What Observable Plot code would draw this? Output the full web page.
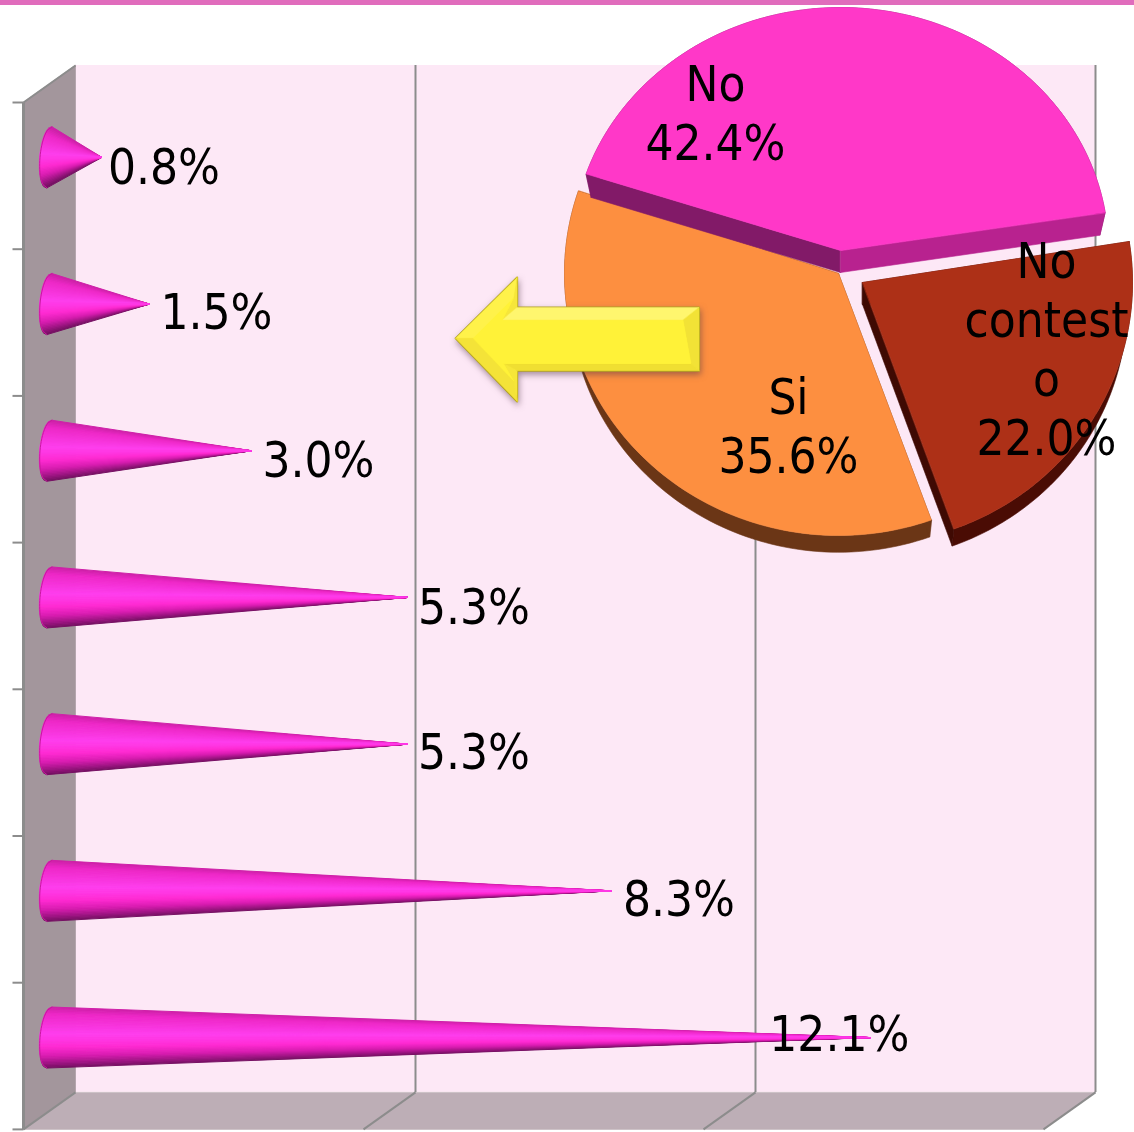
<!DOCTYPE html>
<html>
<head>
<meta charset="utf-8">
<script src="https://cdn.jsdelivr.net/npm/d3@7"></script>
<script src="https://cdn.jsdelivr.net/npm/@observablehq/plot@0.6"></script>
<style>
  html, body { margin: 0; padding: 0; background: #fff; }
  svg { display: block; }
</style>
</head>
<body>
<div id="chart"></div>
<script>
// Cone series, top row to bottom row (percent)
const shares = [0.8, 1.5, 3.0, 5.3, 5.3, 8.3, 12.1];
const axisTicks = [0, 5, 10, 15];

// Pie series, clockwise from the first slice
const pieNames = ["No\ncontest\no", "Si", "No"];
const pieValues = [22.0, 35.6, 42.4];
const pieFaces = ["#ad3017", "#fd8f40", "#ff38c8"];
const pieRims = ["#4a0c04", "#6b3616", "#821a68"];
const pieCuts = ["#3f0a03", "#6b3616", "#b8228f"];

// Chart frame: the value and row scales that every mark shares
const W = 1134, H = 1132;
const pxPerUnit = 68, pxPerRow = 146.7, originX = 75, originY = 65;
const depthX = -52 / pxPerUnit, depthY = 37 / pxPerRow;
const xMin = -originX / pxPerUnit, xMax = (W - originX) / pxPerUnit;
const yMin = -originY / pxPerRow, yMax = (H - originY) / pxPerRow;
const rows = shares.length;

const labelFont = {
  fontFamily: "'DejaVu Sans Condensed', 'DejaVu Sans'",
  fontSize: 49,
  fill: "#000",
  lineHeight: 1.2
};

// Closed polygons (walls, pie parts, arrow facets) share this table shape
const poly = (id, shade, pts) => pts.map(([x, y]) => ({id, shade, x, y}));
const closed = (rowsOut, extra = {}) => Plot.line(rowsOut, {
  x: "x", y: "y", z: "id", fill: "shade", stroke: "shade",
  strokeWidth: 0.6, curve: "linear-closed", ...extra
});

// Side wall and floor of the box
const walls = [
  ...poly("side", "#a3969c", [[0, 0], [0, rows], [depthX, rows + depthY], [depthX, depthY]]),
  ...poly("floor", "#bdaeb6", [[0, rows], [axisTicks[3], rows], [axisTicks[3] + depthX, rows + depthY], [depthX, rows + depthY]])
];

// Each cone is a fan of thin strips from the round base to the tip;
// strips are drawn edge first so the bright centre stays on top at the tip
const coneShade = d3.scaleLinear()
  .domain([-1, -0.75, -0.1, 0.3, 0.6, 0.85, 1])
  .range(["#cc1fa6", "#ee28c8", "#ff3eee", "#ff2ad2", "#d81cb0", "#9a1480", "#70105e"]);
const stripCount = 40, baseHalf = 30.5 / pxPerRow;
const baseX = f => (2 - 9.5 * Math.sqrt(Math.max(0, 1 - f * f)) - 2.5 * f) / pxPerUnit;
const stripOrder = d3.range(stripCount).sort((a, b) =>
  Math.abs(b + 0.5 - stripCount / 2) - Math.abs(a + 0.5 - stripCount / 2));
const coneStrips = shares.flatMap((v, i) =>
  stripOrder.flatMap(k => {
    const f0 = -1 + 2 * k / stripCount, f1 = -1 + 2 * (k + 1) / stripCount;
    const yc = i + 0.5;
    return poly(`${i}-${k}`, coneShade((f0 + f1) / 2), [
      [baseX(f0), yc + f0 * baseHalf],
      [v, yc],
      [baseX(f1), yc + f1 * baseHalf]
    ]);
  })
);
const coneRims = shares.flatMap((v, i) =>
  d3.range(-1, 1.001, 0.1).map(f => ({id: i, x: baseX(f), y: i + 0.5 + f * baseHalf}))
);

// Offsets of the value labels from the cone tips
const labelDx = [-22, -17, -17, -18, -18, -17, -129];
const labelDy = [26, 25, 26, 26, 25, 25, 13];

// Pie: slices keep their own centre because they are pulled apart
const pieStart = 81;
const pieCentre = [[862, 282], [838, 273], [840, 250]]
  .map(([a, b]) => [(a - originX) / pxPerUnit, (b - originY) / pxPerRow]);
const pieRadius = [[270, 262], [274, 262], [268, 243]]
  .map(([a, b]) => [a / pxPerUnit, b / pxPerRow]);
const pieDepth = 22 / pxPerRow;
const pieTotal = d3.sum(pieValues);
const pieAngles = [];
pieValues.reduce((acc, v) => { pieAngles.push([acc, acc + v / pieTotal * 360]); return acc + v / pieTotal * 360; }, pieStart);

function pieArc(i, shrink = 1, drop = 0) {
  const [a0, a1] = pieAngles[i], [cx, cy] = pieCentre[i], [rx, ry] = pieRadius[i];
  return d3.range(a0, a1 + 0.001, (a1 - a0) / 90).map(a => {
    const t = a * Math.PI / 180;
    return [cx + rx * shrink * Math.sin(t), cy - ry * shrink * Math.cos(t) + drop];
  });
}
const pieParts = pieValues.flatMap((v, i) => {
  const [cx, cy] = pieCentre[i];
  const top = pieArc(i), low = pieArc(i, 0.98, pieDepth);
  const out = [];
  out.push(...poly(`rim${i}`, pieRims[i], [...top, ...low.slice().reverse()]));
  out.push(...poly(`start${i}`, pieRims[i], [[cx, cy], top[0], low[0], [cx, cy + pieDepth]]));
  out.push(...poly(`end${i}`, pieCuts[i], [[cx, cy], top[top.length - 1], low[low.length - 1], [cx, cy + pieDepth]]));
  out.push(...poly(`face${i}`, pieFaces[i], [[cx, cy], ...top]));
  return out;
});
const pieLabelAt = [[1046, 347], [788, 424], [715, 111]]
  .map(([a, b]) => [(a - originX) / pxPerUnit, (b - originY) / pxPerRow]);
const pieLabels = pieValues.map((v, i) => ({
  text: `${pieNames[i]}\n${v.toFixed(1)}%`, x: pieLabelAt[i][0], y: pieLabelAt[i][1]
}));

// Block arrow pointing from the pie to the cones, with bevelled edges
const ar = {tip: 5.59, neck: 6.495, tail: 9.17, mid: 1.86, shaftTop: 1.65, shaftLow: 2.08, headTop: 1.445, headLow: 2.29};
const bx = 10 / pxPerUnit, by = 7 / pxPerRow;
const arOuter = [
  [ar.tip, ar.mid], [ar.neck, ar.headTop], [ar.neck, ar.shaftTop],
  [ar.tail, ar.shaftTop], [ar.tail, ar.shaftLow], [ar.neck, ar.shaftLow],
  [ar.neck, ar.headLow]
];
const arInner = [
  [ar.tip + 0.26, ar.mid], [ar.neck - 0.05, ar.headTop + 0.14], [ar.neck - 0.22, ar.shaftTop + by * 1.8],
  [ar.tail - bx * 1.6, ar.shaftTop + by * 1.8], [ar.tail - bx * 0.8, ar.shaftLow - by], [ar.neck - 0.2, ar.shaftLow - by],
  [ar.neck - 0.05, ar.headLow - 0.14]
];
const arShades = ["#fff24a", "#f6e63a", "#fff66e", "#f2e236", "#f0df32", "#f6e638", "#f4e338"];
const arrowFacets = [
  ...arOuter.flatMap((p, i) => {
    const j = (i + 1) % arOuter.length;
    return poly(`bevel${i}`, arShades[i], [p, arOuter[j], arInner[j], arInner[i]]);
  }),
  ...poly("top", "#fff238", arInner)
];

const withShadow = (i, s, v, d, c, next) => {
  const g = next(i, s, v, d, c);
  g.style.filter = "drop-shadow(1px 3px 3px rgba(80,50,70,0.5))";
  return g;
};

const chart = Plot.plot({
  width: W,
  height: H,
  margin: 0,
  style: {background: "#fff", fontStretch: "condensed"},
  x: {axis: null, domain: [xMin, xMax], range: [0, W]},
  y: {axis: null, domain: [yMin, yMax], range: [0, H]},
  color: {type: "identity"},
  marks: [
    // Strip along the top edge of the slide
    Plot.rect([{}], {x1: () => xMin, x2: () => xMax, y1: () => yMin, y2: () => yMin + 5 / pxPerRow, fill: "#e06cbc"}),

    // Back wall, side wall, floor
    Plot.rect([{}], {x1: () => 0, x2: () => axisTicks[3], y1: () => 0, y2: () => rows, fill: "#fde8f6"}),
    closed(walls),

    // Gridlines: up the back wall and diagonally across the floor
    Plot.ruleX(axisTicks.slice(1), {y1: () => 0, y2: () => rows, stroke: "#8c8c8c", strokeWidth: 2}),
    Plot.link(axisTicks, {
      x1: d => d, y1: () => rows, x2: d => d + depthX, y2: () => rows + depthY,
      stroke: "#8c8c8c", strokeWidth: 2
    }),

    // Left edge of the box and the row ticks
    Plot.link([{}], {x1: () => depthX, y1: () => depthY, x2: () => depthX, y2: () => rows + depthY, stroke: "#8c8c8c", strokeWidth: 3}),
    Plot.link([{}], {x1: () => depthX, y1: () => depthY, x2: () => 0, y2: () => 0, stroke: "#8c8c8c", strokeWidth: 2}),
    Plot.link(d3.range(rows + 1), {
      x1: () => depthX - 11 / pxPerUnit, y1: d => d + depthY,
      x2: () => depthX, y2: d => d + depthY,
      stroke: "#8c8c8c", strokeWidth: 2
    }),

    // Cones sit halfway through the depth of the box
    closed(coneStrips, {dx: -28, dy: 18.5, strokeWidth: 1}),
    Plot.line(coneRims, {x: "x", y: "y", z: "id", stroke: "#c8189f", strokeWidth: 1, dx: -28, dy: 18.5}),

    ...shares.map((v, i) => Plot.text([v], {
      x: d => d, y: () => i + 0.5, text: d => `${d.toFixed(1)}%`,
      textAnchor: "start", dx: labelDx[i], dy: labelDy[i], ...labelFont
    })),

    // Pie slices and their labels
    closed(pieParts),
    Plot.text(pieLabels, {x: "x", y: "y", text: "text", textAnchor: "middle", ...labelFont}),

    // Arrow
    closed(poly("arrow", "#fff238", arOuter), {render: withShadow, stroke: "#b3a322", strokeWidth: 2}),
    closed(arrowFacets, {strokeWidth: 0.4})
  ]
});
document.getElementById("chart").appendChild(chart);
</script>
</body>
</html>
